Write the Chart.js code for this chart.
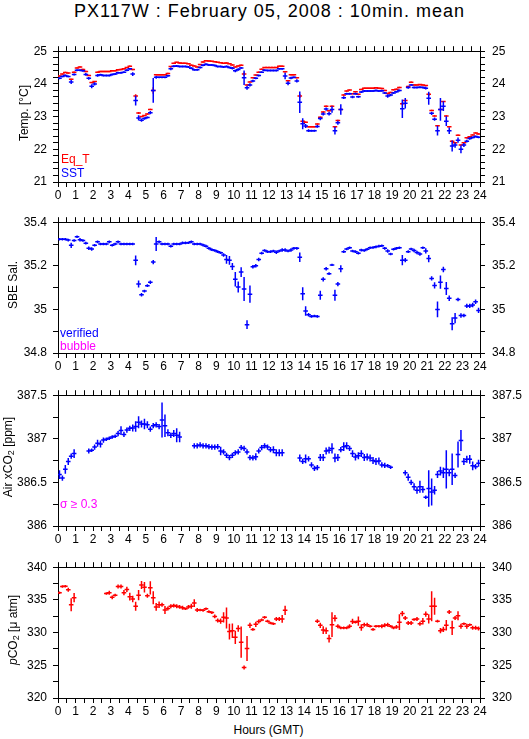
<!DOCTYPE html>
<html>
<head>
<meta charset="utf-8">
<script src="https://cdn.jsdelivr.net/npm/chart.js@4.4.0/dist/chart.umd.min.js"></script>
<style>
  body { margin: 0; background: #fff; width: 529px; height: 739px; position: relative; overflow: hidden;
         font-family: "Liberation Sans", Arial, sans-serif; color: #000; }
  canvas { position: absolute; left: 0; }
  .txt { position: absolute; white-space: nowrap; line-height: 1; font-size: 12px; }
  .ylab { position: absolute; white-space: nowrap; line-height: 1; font-size: 12px;
          transform: translate(-50%, -50%) rotate(-90deg); }
  .ylab sub { font-size: 9px; vertical-align: -2px; line-height: 0; }
</style>
</head>
<body>

<div class="txt" style="left:0;width:539px;text-align:center;top:2px;font-size:18px;letter-spacing:1px">PX117W : February 05, 2008 : 10min. mean</div>

<canvas id="c1" width="529" height="166" style="top:37px"></canvas>
<canvas id="c2" width="529" height="166" style="top:208px"></canvas>
<canvas id="c3" width="529" height="166" style="top:381px"></canvas>
<canvas id="c4" width="529" height="166" style="top:553px"></canvas>

<div class="ylab" style="left:24px;top:113px">Temp. [°C]</div>
<div class="ylab" style="left:13px;top:285px">SBE Sal.</div>
<div class="ylab" style="left:8px;top:457px">Air xCO<sub>2</sub> [ppm]</div>
<div class="ylab" style="left:13px;top:630px"><i>p</i>CO<sub>2</sub> [μ atm]</div>

<div class="txt" style="left:61px;top:153px;color:#ff0000">Eq_T</div>
<div class="txt" style="left:61px;top:167px;color:#0000ff">SST</div>
<div class="txt" style="left:60px;top:327px;color:#0000ff">verified</div>
<div class="txt" style="left:60px;top:340px;color:#ff00ff">bubble</div>
<div class="txt" style="left:60px;top:498px;color:#ff00ff">σ ≥ 0.3</div>
<div class="txt" style="left:0;width:537px;text-align:center;top:724px">Hours (GMT)</div>

<script>
// 10 minute means, 144 per day (index i -> hour (i + 0.5) / 6)
const hourLabels = ['0','1','2','3','4','5','6','7','8','9','10','11','12','13','14','15','16','17','18','19','20','21','22','23','24'];

const tempTicks = [21, 22, 23, 24, 25];
const salTicks = [34.8, 35, 35.2, 35.4];
const xco2Ticks = [386, 386.5, 387, 387.5];
const pco2Ticks = [320, 325, 330, 335, 340];

const eqT = [
  24.24, 24.30, 24.35, 24.33, 24.14, 24.36,
  24.49, 24.52, 24.44, 24.38, 24.26, 24.04,
  24.07, 24.36, 24.38, 24.38, 24.38, 24.38,
  24.40, 24.40, 24.43, 24.44, 24.46, 24.50,
  24.54, 24.44, 23.63, 23.11, 23.00, 23.03,
  23.08, 23.22, 23.80, 24.28, 24.28, 24.28,
  24.28, 24.32, 24.53, 24.63, 24.66, 24.64,
  24.63, 24.63, 24.62, 24.57, 24.55, 24.52,
  24.59, 24.67, 24.71, 24.70, 24.69, 24.68,
  24.66, 24.65, 24.63, 24.64, 24.62, 24.58,
  24.52, 24.55, 24.57, 24.30, 23.97, 24.06,
  24.19, 24.27, 24.36, 24.45, 24.50, 24.50,
  24.50, 24.50, 24.50, 24.54, 24.54, 24.37,
  24.10, 24.28, 24.28, 24.19, 23.63, 22.86,
  22.83, 22.69, 22.69, 22.69, 22.77, 22.98,
  23.14, 23.32, 23.18, 23.32, 22.69, 22.88,
  23.22, 23.66, 23.78, 23.81, 23.70, 23.76,
  23.68, 23.83, 23.87, 23.87, 23.87, 23.87,
  23.88, 23.87, 23.86, 23.80, 23.71, 23.74,
  23.82, 23.84, 23.89, 23.39, 23.49, 23.92,
  24.05, 23.97, 23.97, 23.98, 23.97, 23.95,
  23.68, 23.19, 23.02, 22.72, 23.22, 23.46,
  23.02, 22.69, 22.25, 22.20, 22.43, 22.13,
  22.20, 22.35, 22.38, 22.44, 22.50, 22.47
];
const eqTsd = [
  .02,.02,.02,.02,.02,.02, .02,.02,.02,.02,.02,.02, .02,.02,.02,.02,.02,.02, .02,.02,.02,.02,.02,.02,
  .02,.02,.05,.03,.02,.02, .02,.02,.10,.02,.02,.02, .02,.02,.02,.02,.02,.02, .02,.02,.02,.02,.02,.02,
  .02,.02,.02,.02,.02,.02, .02,.02,.02,.02,.02,.02, .02,.02,.02,.05,.02,.02, .02,.02,.02,.02,.02,.02,
  .02,.02,.02,.02,.02,.02, .02,.02,.02,.02,.06,.03, .02,.02,.02,.02,.02,.02, .02,.02,.02,.02,.02,.02,
  .02,.02,.02,.02,.02,.02, .02,.02,.02,.02,.02,.02, .02,.02,.02,.02,.02,.02, .02,.02,.02,.04,.02,.02,
  .02,.02,.02,.02,.02,.02, .05,.02,.02,.02,.02,.02, .02,.02,.02,.02,.02,.02, .02,.02,.02,.02,.02,.02
];

const sst = [
  24.17, 24.23, 24.26, 24.23, 24.06, 24.29,
  24.42, 24.42, 24.40, 24.29, 24.17, 23.93,
  24.00, 24.26, 24.28, 24.26, 24.26, 24.26,
  24.29, 24.30, 24.34, 24.34, 24.36, 24.42,
  24.46, 24.30, 23.49, 22.96, 22.89, 22.94,
  22.97, 23.12, 23.80, 24.20, 24.20, 24.20,
  24.20, 24.25, 24.46, 24.54, 24.55, 24.53,
  24.53, 24.53, 24.52, 24.48, 24.43, 24.43,
  24.50, 24.57, 24.60, 24.58, 24.58, 24.56,
  24.53, 24.53, 24.52, 24.53, 24.50, 24.48,
  24.40, 24.44, 24.49, 24.19, 23.88, 23.97,
  24.09, 24.17, 24.26, 24.36, 24.42, 24.41,
  24.41, 24.41, 24.41, 24.46, 24.46, 24.24,
  24.02, 24.18, 24.20, 24.09, 23.44, 22.78,
  22.71, 22.57, 22.57, 22.57, 22.70, 22.94,
  23.08, 23.23, 23.09, 23.22, 22.57, 22.81,
  23.22, 23.58, 23.70, 23.70, 23.60, 23.70,
  23.61, 23.75, 23.78, 23.78, 23.78, 23.78,
  23.80, 23.78, 23.79, 23.72, 23.63, 23.66,
  23.72, 23.76, 23.80, 23.24, 23.41, 23.89,
  23.97, 23.89, 23.89, 23.90, 23.89, 23.87,
  23.56, 23.10, 22.92, 22.57, 23.22, 23.32,
  22.86, 22.57, 22.10, 22.13, 22.28, 22.00,
  22.13, 22.25, 22.33, 22.36, 22.39, 22.37
];
const sstSd = [
  .03,.03,.03,.03,.06,.03, .03,.03,.03,.04,.04,.06, .05,.04,.03,.03,.03,.03, .03,.03,.03,.03,.03,.03,
  .03,.06,.15,.08,.05,.04, .03,.05,.38,.04,.03,.03, .03,.03,.04,.03,.03,.03, .03,.03,.03,.03,.03,.03,
  .03,.03,.03,.03,.03,.03, .03,.03,.03,.03,.03,.04, .04,.04,.03,.22,.06,.05, .04,.03,.03,.03,.03,.03,
  .03,.03,.03,.03,.03,.10, .06,.04,.03,.05,.33,.17, .06,.04,.03,.03,.04,.05, .05,.05,.06,.10,.12,.06,
  .16,.04,.03,.03,.04,.03, .03,.03,.03,.03,.03,.03, .03,.03,.03,.03,.05,.04, .03,.03,.03,.28,.16,.04,
  .03,.03,.03,.03,.03,.04, .20,.05,.05,.15,.35,.15, .15,.10,.17,.08,.08,.12, .06,.04,.04,.03,.03,.03
];

const sal = [
  35.322, 35.322, 35.322, 35.318, 35.294, 35.316,
  35.333, 35.320, 35.316, 35.304, 35.280, 35.277,
  35.294, 35.310, 35.300, 35.300, 35.300, 35.310,
  35.294, 35.300, 35.310, 35.300, 35.300, 35.300,
  35.300, 35.300, 35.225, 35.117, 35.067, 35.084,
  35.109, 35.125, 35.217, 35.300, 35.310, 35.300,
  35.300, 35.300, 35.290, 35.300, 35.300, 35.300,
  35.305, 35.305, 35.306, 35.310, 35.300, 35.300,
  35.300, 35.295, 35.290, 35.280, 35.274, 35.270,
  35.265, 35.260, 35.250, 35.229, 35.225, 35.197,
  35.138, 35.103, 35.171, 35.094, 34.930, 35.070,
  35.196, 35.200, 35.229, 35.258, 35.270, 35.265,
  35.265, 35.268, 35.262, 35.268, 35.272, 35.272,
  35.268, 35.272, 35.280, 35.280, 35.239, 35.072,
  34.993, 34.975, 34.968, 34.970, 34.968, 35.065,
  35.138, 35.186, 35.164, 35.204, 35.065, 35.116,
  35.186, 35.265, 35.277, 35.283, 35.268, 35.265,
  35.258, 35.272, 35.270, 35.276, 35.283, 35.284,
  35.287, 35.290, 35.292, 35.280, 35.268, 35.254,
  35.276, 35.280, 35.283, 35.226, 35.226, 35.265,
  35.277, 35.270, 35.261, 35.254, 35.283, 35.268,
  35.233, 35.142, 35.110, 35.000, 35.125, 35.183,
  35.096, 35.051, 34.934, 34.960, 35.045, 34.972,
  34.972, 35.016, 35.016, 35.020, 35.035, 34.995
];
const salSd = [
  .006,.006,.006,.006,.012,.006, .006,.008,.006,.006,.008,.008, .006,.006,.006,.006,.006,.006, .006,.006,.006,.006,.006,.006,
  .006,.006,.022,.016,.008,.006, .006,.008,.010,.032,.006,.006, .006,.006,.006,.006,.006,.006, .006,.006,.006,.006,.006,.006,
  .006,.006,.006,.006,.006,.006, .006,.006,.008,.020,.020,.016, .033,.025,.022,.055,.020,.040, .008,.008,.008,.006,.006,.006,
  .006,.006,.008,.006,.008,.008, .006,.008,.006,.006,.022,.030, .022,.008,.006,.006,.006,.021, .010,.008,.006,.005,.025,.010,
  .016,.006,.006,.006,.006,.006, .006,.006,.006,.006,.006,.006, .006,.006,.006,.006,.008,.006, .006,.006,.006,.024,.010,.006,
  .006,.008,.008,.008,.006,.012, .017,.010,.014,.036,.030,.013, .030,.013,.030,.024,.008,.010, .008,.010,.010,.010,.010,.012
];

const xco2 = [
  386.59, 386.55, 386.65, 386.74, 386.80, 386.83,
  null, null, null, null, 386.86, 386.87,
  386.905, 386.95, 386.94, 386.985, 386.995, 387.007,
  387.02, 387.03, 387.06, 387.095, 387.05, 387.10,
  387.12, 387.125, 387.14, 387.19, 387.17, 387.17,
  387.16, 387.11, 387.15, 387.16, 387.14, 387.215,
  387.15, 387.07, 387.04, 387.06, 387.04, 387.02,
  null, null, null, null, 386.92, 386.92,
  386.93, 386.92, 386.92, 386.91, 386.905, 386.905,
  386.91, 386.86, 386.85, 386.81, 386.785, 386.81,
  386.84, 386.85, 386.90, 386.89, 386.85, 386.785,
  386.78, 386.795, 386.86, 386.90, 386.92, 386.905,
  386.875, 386.875, 386.84, 386.84, 386.84, null,
  null, null, null, null, 386.78, 386.74,
  386.77, 386.77, 386.70, 386.66, 386.67, 386.785,
  386.785, 386.86, 386.87, 386.89, 386.78, 386.785,
  386.875, 386.91, 386.92, 386.89, 386.83, 386.79,
  386.805, 386.83, 386.785, 386.79, 386.78, 386.75,
  386.74, 386.745, 386.70, 386.695, 386.69, 386.675,
  null, null, null, null, 386.61, 386.56,
  386.50, 386.45, 386.41, 386.45, 386.42, 386.33,
  386.43, 386.39, 386.41, 386.59, 386.63, 386.61,
  386.65, 386.61, 386.65, 386.58, 386.82, 386.98,
  386.74, 386.765, 386.765, 386.69, 386.68, 386.72
];
const xco2Sd = [
  .05,.03,.05,.04,.03,.05, null,null,null,null,.03,.02, .03,.04,.04,.03,.02,.02, .02,.02,.03,.05,.03,.03,
  .03,.04,.06,.07,.04,.06, .04,.03,.03,.03,.03,.20, .13,.04,.03,.04,.08,.06, null,null,null,null,.03,.03,
  .03,.03,.03,.03,.03,.03, .03,.05,.03,.03,.03,.03, .03,.03,.03,.03,.03,.03, .03,.04,.03,.03,.03,.03,
  .03,.04,.04,.04,.04,null, null,null,null,null,.04,.03, .05,.03,.03,.03,.03,.04, .04,.04,.04,.06,.05,.04,
  .03,.05,.04,.03,.04,.04, .04,.04,.04,.04,.04,.04, .04,.04,.03,.03,.02,.02, null,null,null,null,.03,.04,
  .03,.04,.04,.07,.04,.02, .21,.155,.05,.04,.05,.06, .22,.04,.18,.03,.15,.12, .04,.04,.05,.05,.03,.04
];

const pco2 = [
  336.10, 337.04, 337.09, 336.55, 334.27, 335.34,
  null, null, null, null, null, null,
  null, null, null, null, 335.97, 336.10,
  335.39, 335.73, 337.04, 337.04, 336.10, 336.60,
  335.49, 335.15, 334.03, 335.73, 337.28, 336.94,
  335.63, 336.84, 335.34, 333.93, 334.27, 334.27,
  333.45, 333.69, 334.03, 334.13, 334.03, 333.93,
  333.79, 333.64, 333.93, 334.03, 334.51, 333.45,
  333.45, 333.40, 333.64, 333.20, 333.06, 332.48,
  331.84, 331.75, 332.33, 332.23, 330.15, 330.29,
  329.27, 330.63, 328.54, 324.66, 327.57, 331.12,
  330.49, 331.26, 331.70, 331.94, 332.33, 331.75,
  331.46, 331.36, 332.09, 332.09, 332.09, 333.40,
  null, null, null, null, null, null,
  null, null, null, null, 331.75, 331.12,
  330.39, 330.29, 329.08, 331.21, 332.18, 330.97,
  330.73, 330.73, 330.73, 330.97, 331.70, 331.60,
  331.75, 330.78, 331.21, 331.21, 330.97, 330.49,
  330.97, 330.97, 330.97, 331.12, 331.21, 330.97,
  330.73, 330.87, 331.60, 332.91, 332.23, 331.46,
  331.46, 332.00, 332.09, 331.36, 331.75, 332.82,
  332.09, 334.03, 334.03, 331.75, 330.29, 330.49,
  331.12, 333.16, 330.73, 332.23, 332.57, 330.97,
  331.36, 330.97, 331.21, 330.73, 330.73, 330.63
];
const pco2Sd = [
  .2,.2,.2,.3,1.0,.7, null,null,null,null,null,null, null,null,null,null,.2,.3, .3,.2,.3,.3,.4,.4,
  .6,.5,.7,.8,.6,.8, .3,1.0,1.0,.6,.5,.3, .6,.3,.3,.3,.3,.3, .3,.2,.3,.4,.6,.3,
  .2,.2,.2,.2,.2,.3, .3,.4,.8,1.6,1.2,1.1, 1.0,.5,2.4,.3,1.9,.4, .2,.4,.3,.2,.2,.2,
  .2,.2,.3,.3,.6,.7, null,null,null,null,null,null, null,null,null,null,.3,.4, .6,.5,.6,1.9,.5,.3,
  .2,.2,.2,.3,.4,.2, .7,.5,.3,.3,.2,.2, .2,.2,.3,.3,.3,.2, .2,.3,1.2,.4,.3,.3,
  .3,.2,.3,.3,.5,.4, .7,2.3,1.3,.2,.4,.4, .8,.3,1.1,.3,.7,.4, .2,.4,.2,.3,.3,.3
];

Chart.defaults.font.family = '"Liberation Sans", Arial, sans-serif';
Chart.defaults.font.size = 12;
Chart.defaults.color = '#000';

function toPoints(vals, sd) {
  const out = [];
  vals.forEach((v, i) => {
    if (v === null) return;
    out.push({ x: (i + 0.5) / 6, y: v, sd: sd[i] || 0 });
  });
  return out;
}

// horizontal 10 min dash
function dashSet(vals, sd, color, order) {
  return {
    data: toPoints(vals, sd), order,
    showLine: false, pointStyle: 'line', pointRadius: 2.3, pointRotation: 0,
    pointBorderWidth: 1.5, pointBorderColor: color, pointBackgroundColor: color
  };
}

// vertical +/- sd bar
function barSet(vals, sd, color, order) {
  return {
    data: toPoints(vals, sd), order,
    showLine: false, pointStyle: 'line', pointRotation: 90,
    pointBorderWidth: 1.5, pointBorderColor: color, pointBackgroundColor: color,
    pointRadius: ctx => {
      const p = ctx.raw;
      if (!p) return 0;
      const ys = ctx.chart.scales.y;
      return Math.abs(ys.getPixelForValue(p.y + p.sd) - ys.getPixelForValue(p.y));
    }
  };
}

function makePanel(id, datasets, ymin, ymax, minor, majors, bottomH) {
  const grid = { drawOnChartArea: false, drawTicks: true, tickLength: 5, color: '#000', lineWidth: 1 };
  const border = { display: true, color: '#000', width: 1 };
  const yLabel = v => {
    const m = majors.find(t => Math.abs(t - v) < 1e-6);
    return m === undefined ? '' : String(m);
  };
  new Chart(document.getElementById(id), {
    type: 'scatter',
    data: { datasets },
    options: {
      responsive: false,
      animation: false,
      events: [],
      layout: { padding: 0 },
      plugins: { legend: { display: false }, tooltip: { enabled: false } },
      scales: {
        x: {
          type: 'linear', position: 'bottom', min: 0, max: 24, grid, border,
          ticks: { stepSize: 0.5, maxTicksLimit: 200, autoSkip: false, maxRotation: 0, padding: 1,
                   callback: v => Number.isInteger(v) ? hourLabels[v] : '' },
          afterFit: s => { s.height = bottomH; }
        },
        xTop: {
          type: 'linear', position: 'top', min: 0, max: 24, grid, border,
          ticks: { stepSize: 0.5, maxTicksLimit: 200, autoSkip: false, maxRotation: 0, callback: () => '' },
          afterFit: s => { s.height = 8; }
        },
        y: {
          type: 'linear', position: 'left', min: ymin, max: ymax, grid, border,
          ticks: { stepSize: minor, maxTicksLimit: 200, autoSkip: false, padding: 6, callback: yLabel },
          afterFit: s => { s.width = 58; }
        },
        yRight: {
          type: 'linear', position: 'right', min: ymin, max: ymax, grid, border,
          ticks: { stepSize: minor, maxTicksLimit: 200, autoSkip: false, padding: 7, callback: yLabel },
          afterFit: s => { s.width = 49; }
        }
      }
    }
  });
}

const RED = '#ff0000', BLUE = '#0000ff';

makePanel('c1', [
  dashSet(sst, sstSd, BLUE, 1), barSet(sst, sstSd, BLUE, 1),
  dashSet(eqT, eqTsd, RED, 2), barSet(eqT, eqTsd, RED, 2)
], 21, 25, 0.2, tempTicks, 21);

makePanel('c2', [
  dashSet(sal, salSd, BLUE, 1), barSet(sal, salSd, BLUE, 1)
], 34.8, 35.4, 0.1, salTicks, 21);

makePanel('c3', [
  dashSet(xco2, xco2Sd, BLUE, 1), barSet(xco2, xco2Sd, BLUE, 1)
], 386, 387.5, 0.25, xco2Ticks, 21);

makePanel('c4', [
  dashSet(pco2, pco2Sd, RED, 1), barSet(pco2, pco2Sd, RED, 1)
], 320, 340, 2.5, pco2Ticks, 21);
</script>
</body>
</html>
